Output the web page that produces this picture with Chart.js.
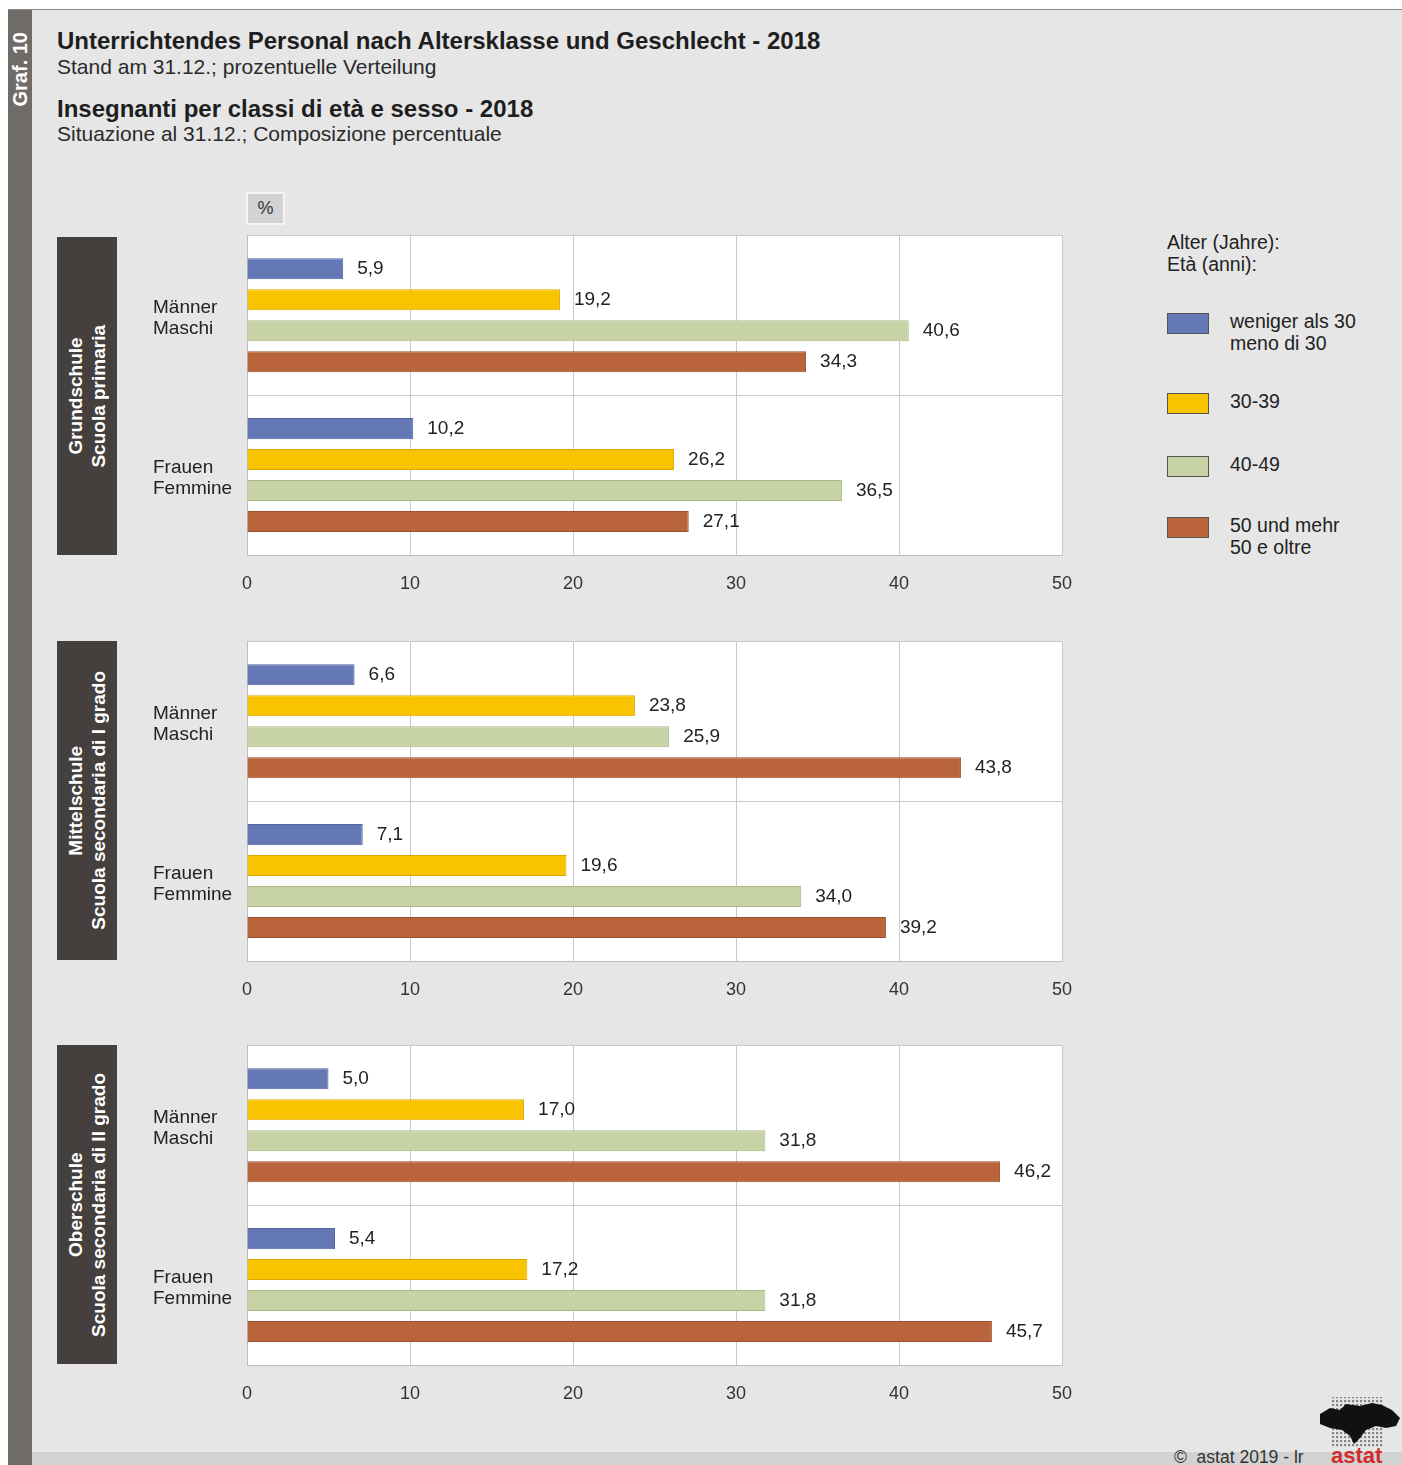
<!DOCTYPE html>
<html>
<head>
<meta charset="utf-8">
<script src="https://cdn.jsdelivr.net/npm/chart.js@4/dist/chart.umd.min.js"></script>
<style>
  html, body { margin:0; padding:0; }
  body { width:1402px; height:1465px; position:relative; overflow:hidden; background:#fff; font-family:"Liberation Sans", Arial, sans-serif; color:#222; }
  #bg { position:absolute; left:8px; top:9px; width:1394px; height:1456px; background:#e6e6e6; border-top:1px solid #8a8a8a; }
  #strip { position:absolute; left:8px; top:10px; width:24px; height:1455px; background:#6f6b67; }
  #graf { position:absolute; left:8px; top:28px; width:24px; height:82px; display:flex; align-items:center; justify-content:center; }
  #graf span { writing-mode:vertical-rl; transform:rotate(180deg); color:#fff; font-weight:bold; font-size:20px; white-space:nowrap; }
  #footband { position:absolute; left:32px; top:1452px; width:1370px; height:13px; background:#d2d2d2; }
  .t { position:absolute; white-space:nowrap; }
  .title { font-weight:bold; font-size:24px; color:#1e1e1e; }
  .sub { font-size:21px; color:#2a2a2a; }
  .box { position:absolute; left:57px; width:60px; background:#45403d; display:flex; align-items:center; justify-content:center; }
  .box span { writing-mode:vertical-rl; transform:rotate(180deg); color:#fff; font-weight:bold; font-size:19px; line-height:23px; text-align:center; white-space:nowrap; }
  #pct { position:absolute; left:246px; top:192px; width:35px; height:29px; background:#d3d3d3; border:2px solid #f4f4f4; font-size:18px; text-align:center; line-height:29px; color:#333; }
  canvas.c { position:absolute; left:143px; }
  .leg { position:absolute; font-size:19.5px; line-height:21.5px; color:#222; }
  .sw { position:absolute; left:1167px; width:40px; height:19px; border:1.5px solid #555; }
</style>
</head>
<body>
<div id="bg"></div>
<div id="strip"></div>
<div id="graf"><span>Graf. 10</span></div>
<div id="footband"></div>

<div class="t title" style="left:57px; top:27px;">Unterrichtendes Personal nach Altersklasse und Geschlecht - 2018</div>
<div class="t sub" style="left:57px; top:55px;">Stand am 31.12.; prozentuelle Verteilung</div>
<div class="t title" style="left:57px; top:95px;">Insegnanti per classi di età e sesso - 2018</div>
<div class="t sub" style="left:57px; top:122px;">Situazione al 31.12.; Composizione percentuale</div>

<div id="pct">%</div>

<div class="box" style="top:237px; height:318px;"><span>Grundschule<br>Scuola primaria</span></div>
<div class="box" style="top:641px; height:319px;"><span>Mittelschule<br>Scuola secondaria di I grado</span></div>
<div class="box" style="top:1045px; height:319px;"><span>Oberschule<br>Scuola secondaria di II grado</span></div>

<canvas class="c" id="c1" width="959" height="391" style="top:214px;"></canvas>
<canvas class="c" id="c2" width="959" height="391" style="top:620px;"></canvas>
<canvas class="c" id="c3" width="959" height="391" style="top:1024px;"></canvas>

<div id="legend"></div>

<div class="t" style="left:1174px; top:1447px; font-size:17.5px; color:#333;">©&nbsp; astat 2019 - lr</div>
<div class="t" style="left:1331px; top:1443px; font-size:22px; font-weight:bold; color:#d42a2e;">astat</div>
<svg style="position:absolute; left:1316px; top:1396px;" width="86" height="54">
  <defs>
    <pattern id="dots" width="4" height="4" patternUnits="userSpaceOnUse"><rect x="0" y="0" width="2.2" height="2.2" fill="#111"/></pattern>
  </defs>
  <rect x="16" y="1" width="52" height="50" fill="url(#dots)" opacity="0.45"/>
  <path d="M4 18 L14 12 L24 14 L30 8 L44 10 L56 7 L66 9 L76 14 L84 22 L80 30 L70 32 L60 30 L50 34 L44 42 L38 48 L34 40 L26 34 L14 32 L4 28 Z" fill="#111"/>
</svg>

<script>
// ---- data ----
const categories = [["Männer", "Maschi"], ["Frauen", "Femmine"]];
const ageClasses = ["weniger als 30|meno di 30", "30-39", "40-49", "50 und mehr|50 e oltre"];
const legendTitle = ["Alter (Jahre):", "Età (anni):"];
const xTicks = [0, 10, 20, 30, 40, 50];

// Grundschule / Scuola primaria  (values: [Männer, Frauen])
const primUnder30 = [5.9, 10.2];
const prim30_39   = [19.2, 26.2];
const prim40_49   = [40.6, 36.5];
const prim50plus  = [34.3, 27.1];
// Mittelschule / Scuola secondaria di I grado
const midUnder30 = [6.6, 7.1];
const mid30_39   = [23.8, 19.6];
const mid40_49   = [25.9, 34.0];
const mid50plus  = [43.8, 39.2];
// Oberschule / Scuola secondaria di II grado
const highUnder30 = [5.0, 5.4];
const high30_39   = [17.0, 17.2];
const high40_49   = [31.8, 31.8];
const high50plus  = [46.2, 45.7];

// ---- styles ----
const fills   = ["#6478b6", "#f8c400", "#c7d3a4", "#b9643a"];
const borders = ["#55669e", "#d9a800", "#a9b787", "#9c5230"];
const FONT = "'Liberation Sans', Arial, sans-serif";

const valueLabels = {
  id: 'valueLabels',
  afterDatasetsDraw(chart) {
    const ctx = chart.ctx;
    ctx.save();
    ctx.font = "19px " + FONT;
    ctx.fillStyle = "#222";
    ctx.textBaseline = "middle";
    ctx.textAlign = "left";
    chart.data.datasets.forEach((ds, i) => {
      chart.getDatasetMeta(i).data.forEach((bar, j) => {
        ctx.fillText(ds.data[j].toFixed(1).replace('.', ','), bar.x + 14, bar.y);
      });
    });
    ctx.restore();
  }
};
const plotBg = {
  id: 'plotBg',
  beforeDraw(chart) {
    const a = chart.chartArea, ctx = chart.ctx;
    ctx.save(); ctx.fillStyle = "#fff";
    ctx.fillRect(a.left, a.top, a.right - a.left, a.bottom - a.top);
    ctx.restore();
  }
};

function makeChart(id, series) {
  new Chart(document.getElementById(id), {
    type: 'bar',
    data: {
      labels: categories,
      datasets: series.map((s, i) => ({
        label: ageClasses[i].replace('|', ' / '),
        data: s,
        backgroundColor: fills[i],
        borderColor: borders[i],
        borderWidth: 1,
        categoryPercentage: 0.775,
        barPercentage: 0.68
      }))
    },
    options: {
      indexAxis: 'y',
      responsive: false,
      animation: false,
      devicePixelRatio: 1,
      layout: { padding: { left: 10, top: 21, right: 40, bottom: 10 } },
      plugins: { legend: { display: false }, tooltip: { enabled: false } },
      scales: {
        x: {
          min: 0, max: 50,
          afterBuildTicks: (s) => { s.ticks = xTicks.map(v => ({ value: v })); },
          ticks: { padding: 18, color: "#333", font: { size: 18, family: FONT } },
          grid: { color: "#c9c9c9", lineWidth: 1, drawTicks: false },
          border: { display: true, color: "#bdbdbd" },
          afterFit: (s) => { s.height = 40; }
        },
        y: {
          ticks: { crossAlign: 'far', labelOffset: 3, color: "#222", padding: 0, font: { size: 19, family: FONT, lineHeight: 1.12 } },
          grid: { color: "#c9c9c9", lineWidth: 1, drawTicks: false, offset: true },
          border: { display: true, color: "#bdbdbd" },
          afterFit: (s) => { s.width = 94; }
        }
      }
    },
    plugins: [plotBg, valueLabels]
  });
}

makeChart('c1', [primUnder30, prim30_39, prim40_49, prim50plus]);
makeChart('c2', [midUnder30, mid30_39, mid40_49, mid50plus]);
makeChart('c3', [highUnder30, high30_39, high40_49, high50plus]);

// ---- legend (HTML) ----
const leg = document.getElementById('legend');
const lt = document.createElement('div');
lt.className = 'leg'; lt.style.left = '1167px'; lt.style.top = '232px';
lt.innerHTML = legendTitle.join('<br>');
leg.appendChild(lt);
const swTops = [313, 393, 456, 517];
ageClasses.forEach((name, i) => {
  const sw = document.createElement('div');
  sw.className = 'sw'; sw.style.top = swTops[i] + 'px';
  sw.style.background = fills[i];
  leg.appendChild(sw);
  const tx = document.createElement('div');
  tx.className = 'leg'; tx.style.left = '1230px'; tx.style.top = (swTops[i] - 2) + 'px';
  tx.innerHTML = name.split('|').join('<br>');
  leg.appendChild(tx);
});
</script>
</body>
</html>
